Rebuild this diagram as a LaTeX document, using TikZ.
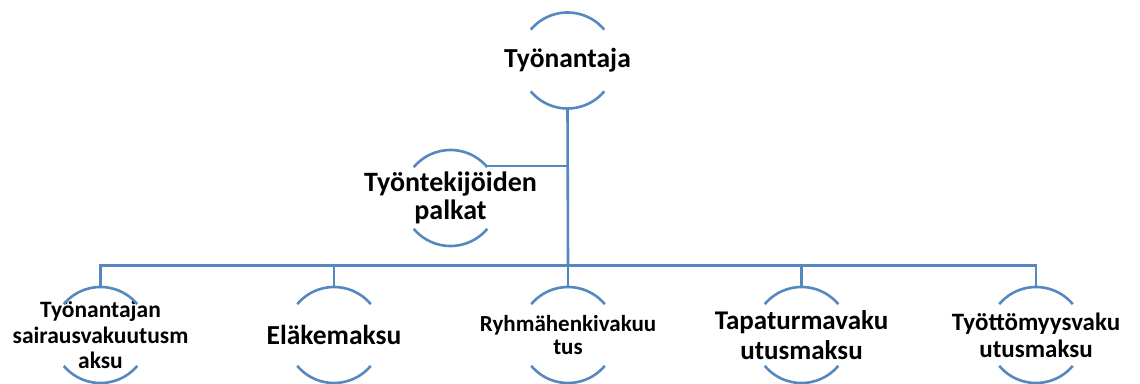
\documentclass[tikz,border=0pt]{standalone}
\usepackage{fontspec}
\setmainfont{Carlito}
\definecolor{linkblue}{RGB}{84,136,190}
\begin{document}
\begin{tikzpicture}[x=1pt,y=1pt,
  ring/.style={circle, minimum size=96pt, inner sep=0pt, outer sep=0pt},
  arcline/.style={draw=linkblue, line width=2.6pt},
  conn/.style={draw=linkblue, line width=2.6pt},
  lbl/.style={align=center, inner sep=0pt, font=\bfseries}]
\useasboundingbox (0,0) rectangle (1140,-383);
\node[ring, label={[lbl, font=\bfseries\fontsize{27.5}{28}\selectfont]center:Työnantaja}] (top) at (567.5,-60.5) {};
\node[ring, label={[lbl, font=\bfseries\fontsize{28}{28}\selectfont]center:Työntekijöiden\\palkat}] (palk) at (450.5,-198) {};
\node[ring, label={[lbl, font=\bfseries\fontsize{23.5}{25.5}\selectfont]center:Työnantajan\\sairausvakuutusm\\aksu}] (b1) at (100.5,-335) {};
\node[ring, label={[lbl, font=\bfseries\fontsize{27.5}{28}\selectfont]center:Eläkemaksu}] (b2) at (334,-335) {};
\node[ring, label={[lbl, font=\bfseries\fontsize{23}{22.5}\selectfont]center:Ryhmähenkivakuu\\tus}] (b3) at (568,-335) {};
\node[ring, label={[lbl, font=\bfseries\fontsize{27}{30}\selectfont]center:Tapaturmavaku\\utusmaksu}] (b4) at (801.5,-335) {};
\node[ring, label={[lbl, font=\bfseries\fontsize{25}{27}\selectfont]center:Työttömyysvaku\\utusmaksu}] (b5) at (1036,-335) {};
\foreach \n in {top,palk,b1,b2,b3,b4,b5}{
  \draw[arcline] (\n.40) arc (40:140:48pt);
  \draw[arcline] (\n.220) arc (220:320:48pt);
}
\coordinate (hub) at (568,-265.5);
\draw[conn] (top.south) -- (hub);
\draw[conn] (palk.42) -| (top.south |- palk.42);
\draw[conn] (b1.north) |- (hub) -| (b5.north);
\foreach \n in {b2,b3,b4}{
  \draw[conn] (\n.north) -- (\n.north |- hub);
}
\end{tikzpicture}
\end{document}
